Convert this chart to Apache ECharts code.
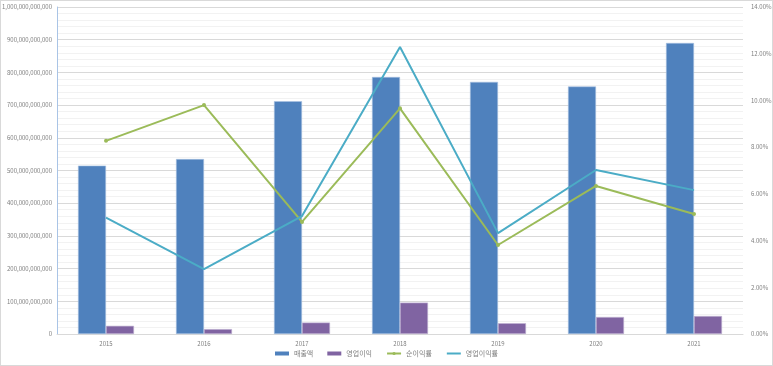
<!DOCTYPE html>
<html><head><meta charset="utf-8">
<script src="https://cdn.jsdelivr.net/npm/echarts@6/dist/echarts.min.js"></script>
<style>html,body{margin:0;padding:0;background:#fff}#c{width:773px;height:366px;box-sizing:border-box;border:1px solid #d9d9d9}</style>
</head><body><div id="c"></div>
<script>
const categories = ['2015','2016','2017','2018','2019','2020','2021'];
const sales = [515e9, 535e9, 712e9, 786e9, 771e9, 757e9, 890e9];
const opProfit = [25e9, 15e9, 35e9, 96e9, 33e9, 52e9, 55e9];
const netMargin = [0.0827, 0.0980, 0.0480, 0.0966, 0.0381, 0.0634, 0.0514];
const opMargin = [0.0498, 0.0278, 0.0505, 0.1229, 0.0432, 0.0702, 0.0616];
const seriesNames = ['매출액','영업이익','순이익률','영업이익률'];

const chart = echarts.init(document.getElementById('c'));
const labelStyle = {color:'#7f7f7f', fontSize:6, fontFamily:'Noto Sans CJK KR, Noto Sans, sans-serif'};
chart.setOption({
  animation:false,
  grid:{left:56, right:29, top:6, bottom:31, outerBoundsMode:'none', containLabel:false},
  legend:{
    bottom:3, left:'center', itemWidth:14, itemHeight:4, itemGap:14,
    textStyle:{color:'#7f7f7f', fontSize:7, fontFamily:'Noto Sans CJK KR, sans-serif'},
    data:[
      {name:seriesNames[0], icon:'rect', itemStyle:{borderWidth:0}},
      {name:seriesNames[1], icon:'rect', itemStyle:{borderWidth:0}},
      {name:seriesNames[2]},
      {name:seriesNames[3], itemStyle:{opacity:0}}
    ]
  },
  xAxis:{
    type:'category', data:categories,
    axisLine:{show:true, lineStyle:{color:'#d9d9d9'}},
    axisTick:{show:false},
    axisLabel:Object.assign({margin:7}, labelStyle)
  },
  yAxis:[
    {type:'value', min:0, max:1e12, interval:1e11,
     axisLine:{show:true, lineStyle:{color:'#a9c4e6'}},
     axisTick:{show:false},
     axisLabel:Object.assign({margin:5, formatter:v=>v.toLocaleString('en-US')}, labelStyle),
     splitLine:{lineStyle:{color:'#d9d9d9', width:1}},
     minorTick:{show:false, splitNumber:5},
     minorSplitLine:{show:true, lineStyle:{color:'#f2f2f2', width:1}}
    },
    {type:'value', min:0, max:0.14, interval:0.02,
     axisLine:{show:false}, axisTick:{show:false},
     axisLabel:Object.assign({margin:8, formatter:v=>(v*100).toFixed(2)+'%'}, labelStyle),
     splitLine:{show:false}
    }
  ],
  series:[
    {name:seriesNames[0], type:'bar', data:sales, barWidth:28, barGap:'0%',
     itemStyle:{color:'#4f81bd', borderColor:'#a8c1e0', borderWidth:0.6}},
    {name:seriesNames[1], type:'bar', data:opProfit, barWidth:28, barGap:'0%',
     itemStyle:{color:'#8064a2', borderColor:'#c0b1d2', borderWidth:0.6}},
    {name:seriesNames[2], type:'line', yAxisIndex:1, data:netMargin,
     symbol:'circle', symbolSize:4, lineStyle:{color:'#9bbb59', width:2},
     itemStyle:{color:'#9bbb59'}},
    {name:seriesNames[3], type:'line', yAxisIndex:1, data:opMargin,
     symbol:'none', lineStyle:{color:'#4bacc6', width:2},
     itemStyle:{color:'#4bacc6'}}
  ]
});
</script></body></html>
